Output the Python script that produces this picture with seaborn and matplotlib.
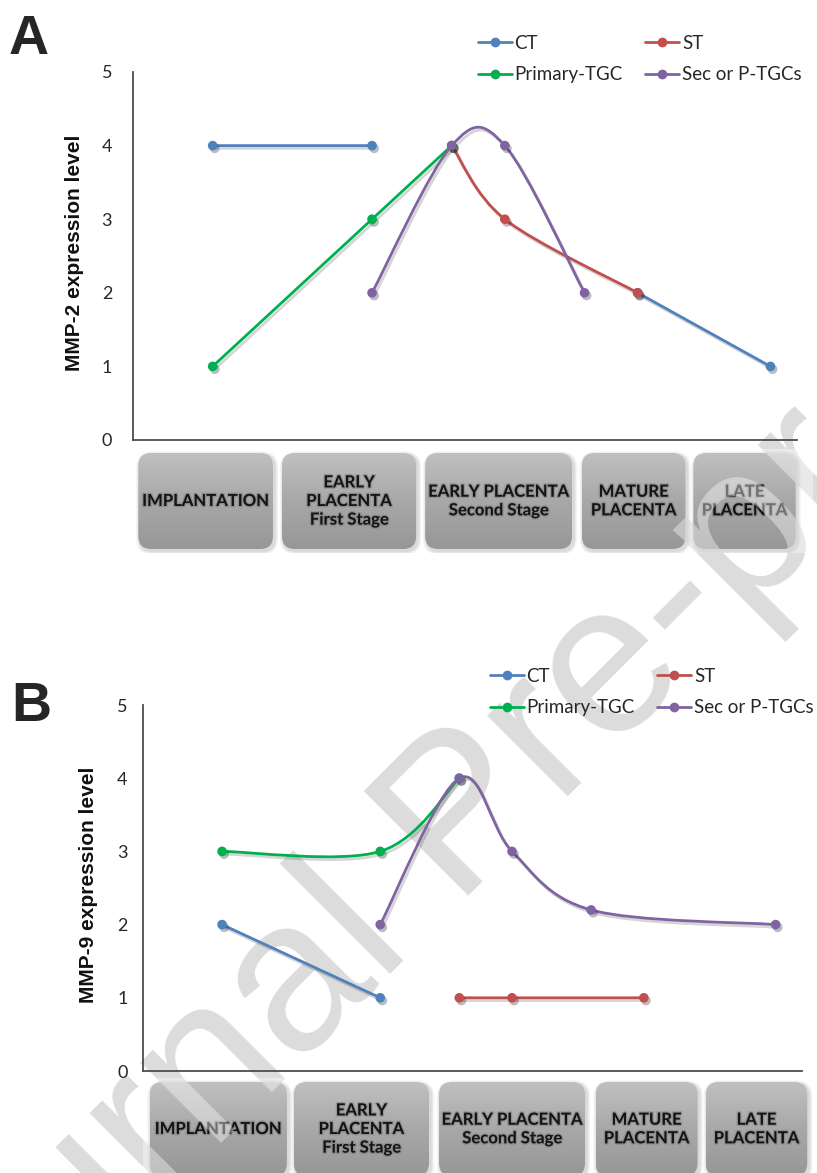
import numpy as np
import matplotlib
matplotlib.use("Agg")
import matplotlib.pyplot as plt
import matplotlib.patheffects as pe
import seaborn as sns
from matplotlib.path import Path
from matplotlib.patches import PathPatch, FancyBboxPatch
from matplotlib.lines import Line2D
from matplotlib.colors import LinearSegmentedColormap

# ---- data (x = position along the developmental time line, None = gap) ----
series_names = ["CT", "ST", "Primary-TGC", "Sec or P-TGCs"]
series_colors = ["#4F81BD", "#C0504D", "#00B050", "#8064A2"]

# MMP-2 (panel A)
mmp2_ct_x = [3, 9, None, 19, 24]
mmp2_ct_y = [4, 4, None, 2, 1]
mmp2_st_x = [12, 14, 19]
mmp2_st_y = [4, 3, 2]
mmp2_ptgc_x = [3, 9, 12]
mmp2_ptgc_y = [1, 3, 4]
mmp2_sec_x = [9, 12, 14, 17]
mmp2_sec_y = [2, 4, 4, 2]

# MMP-9 (panel B)
mmp9_ct_x = [3, 9]
mmp9_ct_y = [2, 1]
mmp9_st_x = [12, 14, 19]
mmp9_st_y = [1, 1, 1]
mmp9_ptgc_x = [3, 9, 12]
mmp9_ptgc_y = [3, 3, 4]
mmp9_sec_x = [9, 12, 14, 17, 24]
mmp9_sec_y = [2, 4, 3, 2.2, 2]

stage_labels = ["IMPLANTATION", "EARLY\nPLACENTA\nFirst Stage",
                "EARLY PLACENTA\nSecond Stage", "MATURE\nPLACENTA", "LATE\nPLACENTA"]
y_ticks = [0, 1, 2, 3, 4, 5]

# ---- layout ----
W, H = 817, 1173
sns.set_theme(style="white")
plt.rcParams["font.family"] = ["Lato", "DejaVu Sans"]

fig = plt.figure(figsize=(W / 100, H / 100), dpi=100)
fig.patch.set_facecolor("white")

WM_POS = (464 / W, 1 - 822 / H)
WM_ROT = 45


def fr(x0, y0, x1, y1):
    # pixel box (top-left origin) -> figure rect
    return [x0 / W, 1 - y1 / H, (x1 - x0) / W, (y1 - y0) / H]


def smooth_path(xs, ys):
    # Excel-like smoothed line: cubic Bezier with Catmull-Rom control points
    p = np.column_stack([xs, ys]).astype(float)
    n = len(p)
    verts, codes = [p[0]], [Path.MOVETO]
    for i in range(n - 1):
        p0 = p[i - 1] if i > 0 else p[i]
        p3 = p[i + 2] if i + 2 < n else p[i + 1]
        c1 = p[i] + (p[i + 1] - p0) / 6
        c2 = p[i + 1] - (p3 - p[i]) / 6
        verts += [c1, c2, p[i + 1]]
        codes += [Path.CURVE4] * 3
    return Path(verts, codes)


def split_gaps(xs, ys):
    segs, cx, cy = [], [], []
    for x, y in zip(xs, ys):
        if x is None:
            if cx:
                segs.append((cx, cy))
            cx, cy = [], []
        else:
            cx.append(x)
            cy.append(y)
    if cx:
        segs.append((cx, cy))
    return segs


def draw_series(ax, xs, ys, color, z):
    for sx, sy in split_gaps(xs, ys):
        patch = PathPatch(smooth_path(sx, sy), fill=False, ec=color, lw=2.0, zorder=z,
                          path_effects=[pe.SimpleLineShadow(offset=(1.5, -2), alpha=0.18, shadow_color="k"),
                                        pe.Normal()])
        ax.add_patch(patch)
        sns.scatterplot(x=sx, y=sy, ax=ax, color=color, s=48, linewidth=0, zorder=z + 0.5, legend=False)
        ax.collections[-1].set_path_effects([pe.SimplePatchShadow(offset=(1.5, -2), alpha=0.3),
                                             pe.Normal()])


def draw_boxes(rect_px, box_units, xmax):
    x0, y0, x1, y1 = rect_px
    bax = fig.add_axes(fr(x0, y0, x1, y1), zorder=2)
    bax.set_xlim(0, xmax)
    bax.set_ylim(0, 1)
    bax.axis("off")
    px_x = (x1 - x0) / xmax
    px_y = (y1 - y0)
    aspect = px_x / px_y
    r = 13 / px_x
    by0, by1 = 4 / px_y, 1 - 4 / px_y
    cmap = LinearSegmentedColormap.from_list("g", ["#979797", "#a8a8a8", "#c0c0c0"])
    grad = np.linspace(0, 1, 128).reshape(-1, 1)
    for (a, b), lab in zip(box_units, stage_labels):
        for k, al in enumerate([0.05, 0.05, 0.06]):
            d = (3 - k) * 1.2 / px_x
            sh = FancyBboxPatch((a - d + 1.5 / px_x, by0 - d * aspect - 2 / px_y), b - a + 2 * d,
                                by1 - by0 + 2 * d * aspect,
                                boxstyle=f"round,pad=0,rounding_size={r + d}", mutation_aspect=aspect,
                                fc="k", ec="none", alpha=al, zorder=1)
            bax.add_patch(sh)
        box = FancyBboxPatch((a, by0), b - a, by1 - by0, boxstyle=f"round,pad=0,rounding_size={r}",
                             mutation_aspect=aspect, fc="none", ec="none", zorder=2)
        bax.add_patch(box)
        im = bax.imshow(grad, extent=(a, b, by0, by1), origin="lower", cmap=cmap, aspect="auto", zorder=2)
        im.set_clip_path(box)
        bax.text((a + b) / 2, (by0 + by1) / 2, lab, ha="center", va="center", fontsize=12,
                 fontweight="bold", color="#141414", linespacing=1.2, zorder=3,
                 path_effects=[pe.withStroke(linewidth=2, foreground="#7a7a7a", alpha=0.5)])
    bax.set_xlim(0, xmax)
    bax.set_ylim(0, 1)
    # watermark shows lighter on top of the grey boxes
    bax.text(*WM_POS, "Journal Pre-proof", transform=fig.transFigure, rotation=WM_ROT,
             rotation_mode="anchor", ha="center", va="center", fontsize=155, color="white",
             alpha=0.4, family="Liberation Sans", clip_on=True, zorder=5)


# watermark behind everything
bg = fig.add_axes([0, 0, 1, 1], zorder=0)
bg.axis("off")
bg.text(*WM_POS, "Journal Pre-proof", rotation=WM_ROT, rotation_mode="anchor",
        ha="center", va="center", fontsize=155, color="#dcdcdc", family="Liberation Sans",
        transform=fig.transFigure)

panels = [
    dict(letter="A", ylabel="MMP-2 expression level", axes_px=(133, 72, 797, 440), pad=15,
         ylab_x=-0.074, letter_px=(9, 54), legend_px=(478, 35),
         boxes_px=(133, 449, 813, 553),
         box_units=[(0.2, 5.27), (5.61, 10.66), (11.0, 16.53), (16.9, 20.8), (21.1, 24.95)],
         data=[(mmp2_ct_x, mmp2_ct_y), (mmp2_st_x, mmp2_st_y),
               (mmp2_ptgc_x, mmp2_ptgc_y), (mmp2_sec_x, mmp2_sec_y)]),
    dict(letter="B", ylabel="MMP-9 expression level", axes_px=(143, 705, 802, 1071), pad=11,
         ylab_x=-0.068, letter_px=(11, 721), legend_px=(490, 668),
         boxes_px=(143, 1078, 818, 1180),
         box_units=[(0.25, 5.46), (5.72, 10.85), (11.23, 16.77), (17.17, 21.04), (21.35, 25.2)],
         data=[(mmp9_ct_x, mmp9_ct_y), (mmp9_st_x, mmp9_st_y),
               (mmp9_ptgc_x, mmp9_ptgc_y), (mmp9_sec_x, mmp9_sec_y)]),
]

for p in panels:
    ax = fig.add_axes(fr(*p["axes_px"]), zorder=1)
    ax.patch.set_alpha(0)
    for i, (xs, ys) in enumerate(p["data"]):
        draw_series(ax, xs, ys, series_colors[i], z=3 + i)
    ax.set_xlim(0, 25)
    ax.set_ylim(0, 5)
    ax.set_yticks(y_ticks)
    ax.set_xticks([])
    ax.tick_params(axis="y", length=0, pad=p["pad"], labelsize=13, labelcolor="#262626")
    sns.despine(ax=ax)
    for s in ["left", "bottom"]:
        ax.spines[s].set_color("#4d4d4d")
        ax.spines[s].set_linewidth(1.3)
    ax.set_ylabel(p["ylabel"], fontsize=15, fontweight="bold", family="Liberation Sans", color="#111111")
    ax.yaxis.set_label_coords(p["ylab_x"], 0.51)

    handles = [Line2D([], [], color=c, marker="o", markersize=6, lw=2) for c in series_colors]
    order = [0, 2, 1, 3]
    lx, ly = p["legend_px"]
    fig.legend([handles[k] for k in order], [series_names[k] for k in order], ncol=2,
               loc="upper left", bbox_to_anchor=(lx / W, 1 - ly / H), frameon=False,
               fontsize=13.5, handlelength=1.8, handletextpad=0.15, columnspacing=1.2,
               labelspacing=0.75, borderpad=0, borderaxespad=0)

    bx0, by0, bx1, by1 = p["boxes_px"]
    ax_w = p["axes_px"][2] - p["axes_px"][0]
    draw_boxes(p["boxes_px"], p["box_units"], xmax=25 * (bx1 - bx0) / ax_w)

    fig.text(p["letter_px"][0] / W, 1 - p["letter_px"][1] / H, p["letter"], fontsize=40,
             fontweight="bold", family="Liberation Sans", ha="left", va="baseline")

fig.savefig("out.png", dpi=100)
